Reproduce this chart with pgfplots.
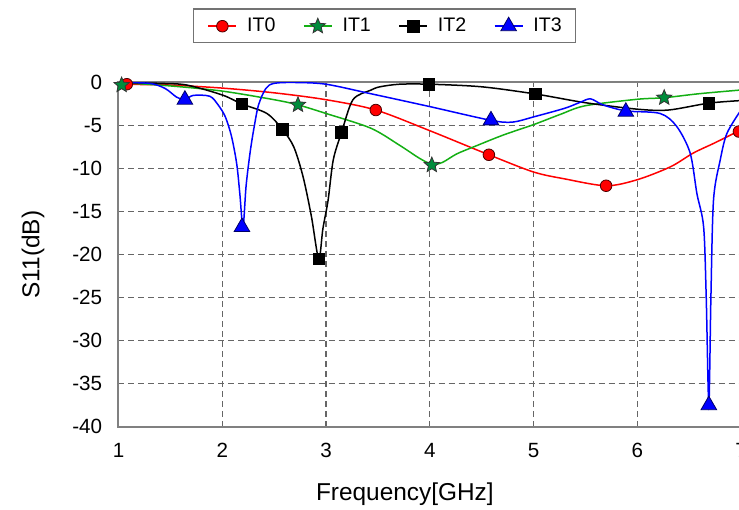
\documentclass[border=0pt]{standalone}
\usepackage{fontspec}
\setmainfont{Liberation Sans}
\usepackage{pgfplots}
\pgfplotsset{compat=1.18}

\definecolor{itred}{RGB}{255,0,0}
\definecolor{itgreen}{RGB}{20,175,20}
\definecolor{starfill}{RGB}{0,140,60}
\definecolor{itblue}{RGB}{0,0,255}

% filled five pointed star
\pgfdeclareplotmark{fstar}{%
  \pgfpathmoveto{\pgfqpointpolar{90}{\pgfplotmarksize}}%
  \pgfpathlineto{\pgfqpointpolar{126}{0.45\pgfplotmarksize}}%
  \pgfpathlineto{\pgfqpointpolar{162}{\pgfplotmarksize}}%
  \pgfpathlineto{\pgfqpointpolar{198}{0.45\pgfplotmarksize}}%
  \pgfpathlineto{\pgfqpointpolar{234}{\pgfplotmarksize}}%
  \pgfpathlineto{\pgfqpointpolar{270}{0.45\pgfplotmarksize}}%
  \pgfpathlineto{\pgfqpointpolar{306}{\pgfplotmarksize}}%
  \pgfpathlineto{\pgfqpointpolar{342}{0.45\pgfplotmarksize}}%
  \pgfpathlineto{\pgfqpointpolar{18}{\pgfplotmarksize}}%
  \pgfpathlineto{\pgfqpointpolar{54}{0.45\pgfplotmarksize}}%
  \pgfpathclose
  \pgfusepathqfillstroke
}

\begin{document}
\begin{tikzpicture}
\begin{axis}[
    name=ax,
    width=311.25pt, height=172.1pt, scale only axis,
    xmin=1, xmax=7, ymin=-40, ymax=0,
    xtick={1,2,...,7},
    ytick={-40,-35,...,0},
    grid=major,
    major grid style={black!60, line width=0.7pt, dash pattern=on 3pt off 2pt},
    axis line style={black!50, line width=1pt},
    major tick length=0pt,
    /pgf/number format/assume math mode=true,
    tick label style={font=\fontsize{10.3}{12}\selectfont},
    xticklabel style={inner sep=0pt, yshift=-8pt},
    yticklabel style={inner sep=0pt, xshift=-8pt},
    xlabel={Frequency[GHz]},
    ylabel={S11(dB)},
    every axis x label/.style={at={(axis description cs:0.46,0)}, yshift=-34pt,
        anchor=center, font=\fontsize{12.2}{14}\selectfont},
    every axis y label/.style={at={(axis description cs:0,0.5)}, xshift=-42.75pt,
        rotate=90, anchor=center, font=\fontsize{12.2}{14}\selectfont},
    legend columns=4,
    legend image code/.code={\draw[mark repeat=2,mark phase=2] plot coordinates {(0pt,0pt)(7pt,0pt)(14pt,0pt)};},
    legend style={
        at={(axis description cs:0.4276,1)}, anchor=center, yshift=28.3pt,
        draw=black!55, line width=0.75pt,
        font=\fontsize{9.8}{11}\selectfont,
        inner xsep=7pt, inner ysep=4pt,
        nodes={inner sep=0pt},
        /tikz/every odd column/.append style={column sep=5pt},
        /tikz/every even column/.append style={column sep=13.8pt},
    },
]

% IT0
\addplot[itred, line width=0.75pt, smooth, forget plot] coordinates {
    (1.0,0)(1.08,-0.2)(1.5,-0.3)(2.0,-0.65)(2.5,-1.2)(3.0,-2.0)(3.48,-3.2)
    (4.0,-5.6)(4.57,-8.4)(5.0,-10.4)(5.3,-11.2)(5.7,-12.0)(6.0,-11.3)
    (6.32,-9.8)(6.54,-8.2)(6.75,-7.0)(7.0,-5.5)
};
% IT1
\addplot[itgreen, line width=0.75pt, smooth, forget plot] coordinates {
    (1.0,0)(1.5,-0.4)(2.0,-1.0)(2.5,-2.0)(2.73,-2.6)(3.0,-3.6)(3.43,-5.3)
    (3.71,-7.3)(3.9,-8.8)(4.02,-9.5)(4.12,-9.3)(4.26,-8.3)(4.44,-7.4)
    (4.71,-6.1)(5.0,-4.9)(5.26,-3.7)(5.5,-2.7)(6.0,-1.95)(6.26,-1.77)
    (6.6,-1.3)(7.0,-0.87)
};
% IT2
\addplot[black, line width=0.75pt, smooth, forget plot] coordinates {
    (1.0,0)(1.4,-0.1)(1.66,-0.3)(2.0,-1.45)(2.19,-2.5)(2.43,-3.6)(2.58,-5.45)
    (2.69,-7.5)(2.78,-11)(2.86,-15.6)(2.93,-20.5)(2.97,-17)(3.02,-13.7)
    (3.07,-9.0)(3.15,-5.8)(3.26,-2.0)(3.43,-0.9)(3.52,-0.5)(3.71,-0.2)
    (4.0,-0.2)(4.5,-0.5)(5.02,-1.34)(5.5,-2.35)(6.0,-3.1)(6.3,-3.2)
    (6.69,-2.4)(7.0,-2.1)
};
% IT3
\addplot[itblue, line width=0.75pt, smooth, forget plot] coordinates {
    (1.0,0)(1.3,-0.1)(1.45,-0.7)(1.56,-1.7)(1.64,-2.0)(1.72,-1.5)(1.88,-1.6)
    (1.96,-2.6)(2.03,-4.0)(2.09,-6.3)(2.14,-9.5)(2.17,-13)(2.2,-16.8)
    (2.23,-12)(2.27,-8.0)(2.31,-5.0)(2.35,-2.6)(2.42,-0.7)(2.5,-0.1)
    (2.7,0)(3.0,-0.2)(3.43,-1.3)(4.0,-2.8)(4.59,-4.4)(4.8,-4.6)(5.0,-4.0)
    (5.3,-3.0)(5.45,-2.3)(5.55,-1.9)(5.67,-2.6)(5.89,-3.3)(6.22,-3.6)
    (6.38,-5.1)(6.51,-8.2)(6.575,-12.9)(6.64,-16.8)(6.665,-25)(6.69,-37.5)
    (6.71,-25)(6.735,-13.7)(6.8,-9.0)(6.865,-5.9)(7.0,-3.2)
};

% markers
\addplot[only marks, mark=*, mark size=2.9pt,
    mark options={fill=itred, draw=black!70!red, line width=0.4pt}, forget plot]
    coordinates {(1.08,-0.2)(3.48,-3.2)(4.57,-8.4)(5.7,-12.0)(6.98,-5.7)};
\addplot[only marks, mark=fstar, mark size=4pt,
    mark options={fill=starfill, draw=black!80, line width=0.4pt}, forget plot]
    coordinates {(1.03,-0.3)(2.73,-2.6)(4.02,-9.6)(6.26,-1.77)};
\addplot[only marks, mark=square*, mark size=2.9pt,
    mark options={fill=black, draw=black}, forget plot]
    coordinates {(2.19,-2.5)(2.58,-5.45)(2.93,-20.5)(3.15,-5.8)(3.99,-0.2)(5.02,-1.34)(6.69,-2.4)};
\addplot[only marks, mark=triangle*, mark size=4.5pt,
    mark options={fill=itblue, draw=black!60!blue, line width=0.4pt}, forget plot]
    coordinates {(1.64,-2.0)(2.19,-16.8)(4.59,-4.4)(5.89,-3.4)(6.69,-37.5)};

\addlegendimage{itred, line width=0.75pt, mark=*, mark size=2.9pt,
    mark options={fill=itred, draw=black!70!red, line width=0.4pt}}
\addlegendentry{IT0}
\addlegendimage{itgreen, line width=0.75pt, mark=fstar, mark size=4pt,
    mark options={fill=starfill, draw=black!80, line width=0.4pt}}
\addlegendentry{IT1}
\addlegendimage{black, line width=0.75pt, mark=square*, mark size=2.9pt}
\addlegendentry{IT2}
\addlegendimage{itblue, line width=0.75pt, mark=triangle*, mark size=4.5pt,
    mark options={fill=itblue, draw=black!60!blue, line width=0.4pt}}
\addlegendentry{IT3}
\end{axis}
\pgfresetboundingbox
\path ([shift={(-59.25pt,-41.65pt)}]ax.south west) rectangle ([shift={(310.25pt,41.25pt)}]ax.north west);
\end{tikzpicture}
\end{document}
